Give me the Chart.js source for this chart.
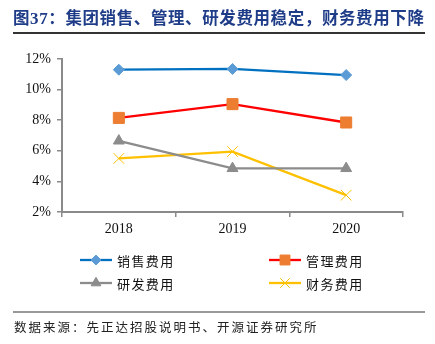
<!DOCTYPE html>
<html>
<head>
<meta charset="utf-8">
<script src="https://cdn.jsdelivr.net/npm/chart.js@4.4.0/dist/chart.umd.min.js"></script>
<style>
  body { margin: 0; background: #fff; }
  #wrap { position: relative; width: 435px; height: 344px; overflow: hidden; }
  #chart { position: absolute; left: 0; top: 0; }
  #title { position: absolute; left: 13px; top: 5px; font: bold 16.5px "Noto Sans CJK SC", sans-serif; color: #1F3C88; white-space: nowrap; letter-spacing: 0.6px; }
  #title .num { font-family: "Liberation Serif", serif; font-size: 17px; }
  #topline { position: absolute; left: 13px; top: 32px; width: 412px; height: 1.5px; background: #333; }
  #botline { position: absolute; left: 13px; top: 311px; width: 412px; height: 2px; background: #999; }
  #source { position: absolute; left: 14px; top: 317px; font: 12.5px "Noto Sans CJK SC", sans-serif; color: #222; letter-spacing: 2px; white-space: nowrap; }
  .lg { position: absolute; height: 20px; display: flex; align-items: center; font: 13px "Noto Sans CJK SC", sans-serif; color: #111; letter-spacing: 1.4px; white-space: nowrap; }
  .lg canvas { margin-right: 5px; }
</style>
</head>
<body>
<div id="wrap">
  <canvas id="chart" width="435" height="344"></canvas>
  <div id="title">图<span class="num">37</span>：集团销售、管理、研发费用稳定，财务费用下降</div>
  <div id="topline"></div>
  <div id="legend"></div>
  <div id="botline"></div>
  <div id="source">数据来源：先正达招股说明书、开源证券研究所</div>
</div>
<script>
const years = ['2018', '2019', '2020'];
const seriesNames = ['销售费用', '管理费用', '研发费用', '财务费用'];
const sales = [11.3, 11.35, 10.95];
const admin = [8.15, 9.05, 7.85];
const rnd = [6.65, 4.85, 4.85];
const finance = [5.5, 5.95, 3.1];
const yTicks = [2, 4, 6, 8, 10, 12];

const axisColor = '#8a8a8a';

const datasets = [
  { label: seriesNames[0], data: sales, borderColor: '#0070C0', backgroundColor: '#5B9BD5',
    pointStyle: 'rectRot', pointRadius: 5.5, pointBorderColor: '#5B9BD5', pointBackgroundColor: '#5B9BD5' },
  { label: seriesNames[1], data: admin, borderColor: '#FF0000', backgroundColor: '#ED7D31',
    pointStyle: 'rect', pointRadius: 7.8, pointBorderColor: '#ED7D31', pointBackgroundColor: '#ED7D31' },
  { label: seriesNames[2], data: rnd, borderColor: '#8c8c8c', backgroundColor: '#8c8c8c',
    pointStyle: 'triangle', pointRadius: 6.3, pointBorderColor: '#8c8c8c', pointBackgroundColor: '#8c8c8c' },
  { label: seriesNames[3], data: finance, borderColor: '#FFC000', backgroundColor: '#FFC000',
    pointStyle: 'crossRot', pointRadius: 7.5, pointBorderColor: '#FFC000', pointBackgroundColor: '#FFC000', pointBorderWidth: 1 }
];
datasets.forEach(d => {
  d.borderWidth = 2.3;
  d.tension = 0;
  if (d.pointBorderWidth === undefined) d.pointBorderWidth = 1;
});

const myChart = new Chart(document.getElementById('chart'), {
  type: 'line',
  data: { labels: years, datasets: datasets },
  options: {
    responsive: false,
    animation: false,
    devicePixelRatio: 1,
    layout: { padding: { top: 59, right: 32, bottom: 0, left: 0 } },
    plugins: { legend: { display: false }, tooltip: { enabled: false } },
    scales: {
      x: {
        offset: true,
        grid: { offset: true, drawOnChartArea: false, drawTicks: true, tickLength: 5, color: axisColor, lineWidth: 1.5 },
        border: { color: axisColor, width: 2 },
        ticks: { color: '#111', padding: 4, font: { family: 'Liberation Serif', size: 14 } },
        afterFit: function(axis) { axis.height = 132; }
      },
      y: {
        min: 2, max: 12,
        afterBuildTicks: function(axis) { axis.ticks = yTicks.map(v => ({ value: v })); },
        grid: { drawOnChartArea: false, drawTicks: true, tickLength: 5, color: axisColor, lineWidth: 1.5 },
        border: { color: axisColor, width: 2 },
        ticks: { color: '#111', padding: 6, font: { family: 'Liberation Serif', size: 14 },
                 callback: function(v) { return v + '%'; } },
        afterFit: function(axis) { axis.width = 62; }
      }
    }
  }
});

// html legend, 2 columns
const legendPos = [[80, 250], [269, 250], [80, 273], [269, 273]];
const legendEl = document.getElementById('legend');
myChart.data.datasets.forEach(function(ds, i) {
  const item = document.createElement('div');
  item.className = 'lg';
  item.style.left = legendPos[i][0] + 'px';
  item.style.top = legendPos[i][1] + 'px';
  const c = document.createElement('canvas');
  c.width = 32; c.height = 20;
  const ctx = c.getContext('2d');
  ctx.strokeStyle = ds.borderColor;
  ctx.lineWidth = ds.borderWidth;
  ctx.beginPath();
  ctx.moveTo(0, 10); ctx.lineTo(32, 10);
  ctx.stroke();
  ctx.fillStyle = ds.pointBackgroundColor;
  ctx.strokeStyle = ds.pointBorderColor;
  ctx.lineWidth = ds.pointBorderWidth;
  Chart.helpers.drawPoint(ctx, { pointStyle: ds.pointStyle, radius: ds.pointRadius * 0.9, rotation: 0, borderWidth: ds.pointBorderWidth }, 16, 10);
  item.appendChild(c);
  const t = document.createElement('span');
  t.textContent = ds.label;
  item.appendChild(t);
  legendEl.appendChild(item);
});
</script>
</body>
</html>
